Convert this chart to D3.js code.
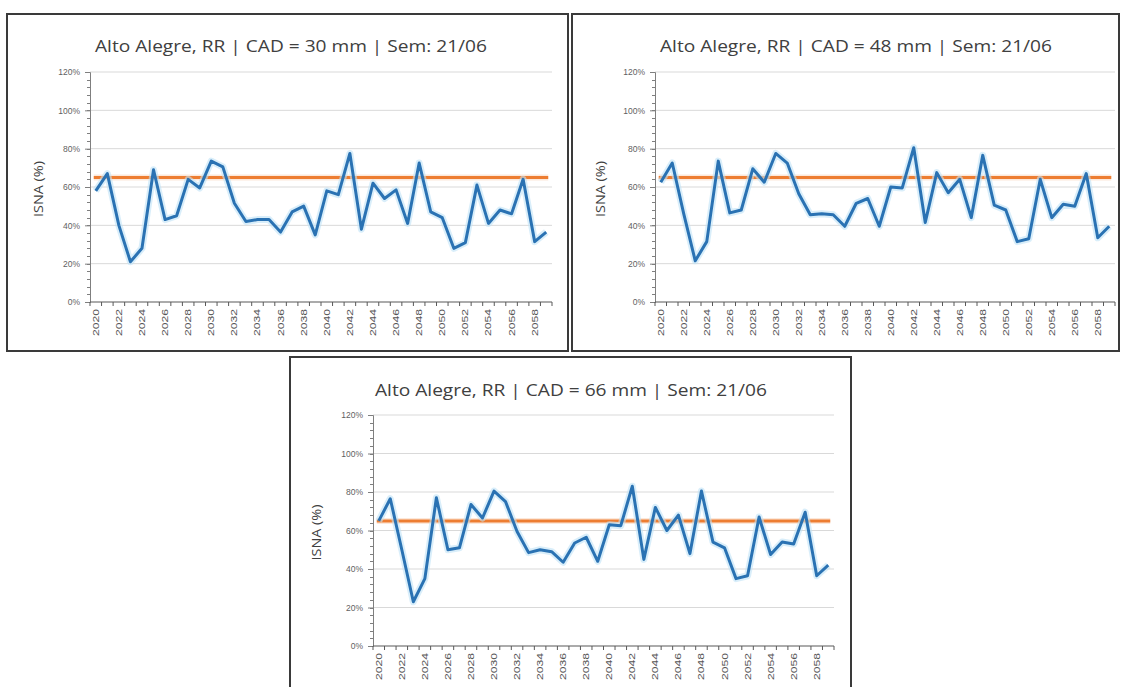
<!DOCTYPE html>
<html>
<head>
<meta charset="utf-8">
<script src="https://cdn.jsdelivr.net/npm/d3@7"></script>
<style>
  html, body { margin: 0; padding: 0; background: #ffffff; }
  svg { display: block; }
</style>
</head>
<body>
<svg id="chart" width="1121" height="687"></svg>
<script>
// ---------- DATA ----------
const years = [2020,2021,2022,2023,2024,2025,2026,2027,2028,2029,
               2030,2031,2032,2033,2034,2035,2036,2037,2038,2039,
               2040,2041,2042,2043,2044,2045,2046,2047,2048,2049,
               2050,2051,2052,2053,2054,2055,2056,2057,2058,2059];
const isnaCad30 = [58,67,40,21,28,69,43,45,64,59.5,
                   73.5,70.5,51.5,42,43,43,36.5,47,50,35,
                   58,56,77.5,38,62,54,58.5,41,72.5,47,
                   44,28,31,61,41,48,46,64,31.5,36.5];
const isnaCad48 = [62.5,72.5,46,21.5,31.5,73.5,46.5,48,69.5,62.5,
                   77.5,72.5,56.5,45.5,46,45.5,39.5,51.5,54,39.5,
                   60,59.5,80.5,41.5,67.5,57,64,44,76.5,50.5,
                   48,31.5,33,64,44,51,50,67,33.5,39.5];
const isnaCad66 = [65,76.5,50,23,35,77,50,51,73.5,66.5,
                   80.5,75,59.5,48.5,50,49,43.5,53.5,56.5,44,
                   63,62.5,83,45,72,60,68,48,80.5,54,
                   51,35,36.5,67,47.5,54,53,69.5,36.5,42];
const threshold = 65;
const titles = [
  "Alto Alegre, RR | CAD = 30 mm | Sem: 21/06",
  "Alto Alegre, RR | CAD = 48 mm | Sem: 21/06",
  "Alto Alegre, RR | CAD = 66 mm | Sem: 21/06"
];
const yTickValues = [0,20,40,60,80,100,120];
const yTickLabels = ["0%","20%","40%","60%","80%","100%","120%"];
const xLabelYears = years.filter(y => y % 2 === 0);
const yAxisTitle = "ISNA (%)";

// ---------- LAYOUT ----------
const panels = [
  { values: isnaCad30, title: titles[0], box: [7,14,568,351],  xr: [90,552],  yr: [302,72],  tx: 291, ty: 52,  ax: 38 },
  { values: isnaCad48, title: titles[1], box: [572,14,1119,351], xr: [655,1115], yr: [302,72],  tx: 856, ty: 52,  ax: 600 },
  { values: isnaCad66, title: titles[2], box: [290,357,851,705], xr: [373,834], yr: [646,415], tx: 571, ty: 396, ax: 316 }
];

const svg = d3.select("#chart");
const FONT = "'Liberation Sans', Arial, sans-serif";
const TFONT = "'Open Sans', 'Noto Sans', sans-serif";

panels.forEach(p => {
  const g = svg.append("g");
  // frame
  g.append("rect")
    .attr("x", p.box[0]).attr("y", p.box[1])
    .attr("width", p.box[2] - p.box[0]).attr("height", p.box[3] - p.box[1])
    .attr("fill", "#ffffff").attr("stroke", "#3a3a3a").attr("stroke-width", 2);

  const x = d3.scaleBand().domain(years).range(p.xr).paddingInner(0).paddingOuter(0);
  const y = d3.scaleLinear().domain([0,120]).range(p.yr);

  // gridlines
  g.append("g").selectAll("line").data(yTickValues.filter(v => v > 0)).join("line")
    .attr("x1", p.xr[0]).attr("x2", p.xr[1])
    .attr("y1", d => y(d)).attr("y2", d => y(d))
    .attr("stroke", "#d9d9d9").attr("stroke-width", 1);

  // y axis minor ticks
  const minor = d3.range(0, 121, 4);
  g.append("g").selectAll("line").data(minor).join("line")
    .attr("x1", p.xr[0] - 3).attr("x2", p.xr[0])
    .attr("y1", d => Math.round(y(d)) + 0.5).attr("y2", d => Math.round(y(d)) + 0.5)
    .attr("stroke", "#7f7f7f").attr("stroke-width", 1);

  // y axis with d3 axis
  const yAxis = d3.axisLeft(y).tickValues(yTickValues)
    .tickFormat((d, i) => yTickLabels[i]).tickSize(5).tickPadding(5);
  const ya = g.append("g").attr("transform", `translate(${p.xr[0]},0)`).call(yAxis);
  ya.select(".domain").attr("stroke", "#7f7f7f");
  ya.selectAll(".tick line").attr("stroke", "#7f7f7f");
  ya.selectAll(".tick text").attr("font-family", FONT).attr("font-size", 8.5).attr("fill", "#5f5f5f");

  // x axis ticks at band boundaries
  const bounds = years.map(d => x(d)).concat([x(years[years.length-1]) + x.bandwidth()]);
  g.append("g").selectAll("line").data(bounds).join("line")
    .attr("x1", d => d).attr("x2", d => d)
    .attr("y1", p.yr[0]).attr("y2", p.yr[0] + 4)
    .attr("stroke", "#595959").attr("stroke-width", 1);
  g.append("line")
    .attr("x1", p.xr[0]).attr("x2", p.xr[1])
    .attr("y1", p.yr[0]).attr("y2", p.yr[0])
    .attr("stroke", "#595959").attr("stroke-width", 1.2);

  // x tick labels
  g.append("g").selectAll("text").data(xLabelYears).join("text")
    .attr("transform", d => `translate(${x(d) + x.bandwidth()/2 + 3},${p.yr[0] + 7}) rotate(-90)`)
    .attr("text-anchor", "end")
    .attr("font-family", FONT).attr("font-size", 8.5).attr("fill", "#555555")
    .attr("textLength", 27).attr("lengthAdjust", "spacingAndGlyphs")
    .text(d => d);

  // threshold line
  g.append("line")
    .attr("x1", x(years[0]) + x.bandwidth()/2 - 2).attr("x2", x(years[years.length-1]) + x.bandwidth()/2 + 2)
    .attr("y1", y(threshold)).attr("y2", y(threshold))
    .attr("stroke", "#fbd9c2").attr("stroke-width", 6).attr("opacity", 0.6);
  g.append("line")
    .attr("x1", x(years[0]) + x.bandwidth()/2 - 2).attr("x2", x(years[years.length-1]) + x.bandwidth()/2 + 2)
    .attr("y1", y(threshold)).attr("y2", y(threshold))
    .attr("stroke", "#ed7d31").attr("stroke-width", 3);

  // series line
  const line = d3.line().x((d, i) => x(years[i]) + x.bandwidth()/2).y(d => y(d));
  g.append("path").datum(p.values).attr("d", line)
    .attr("fill", "none").attr("stroke", "#bfe3f7").attr("stroke-width", 7)
    .attr("stroke-linejoin", "round").attr("opacity", 0.6);
  g.append("path").datum(p.values).attr("d", line)
    .attr("fill", "none").attr("stroke", "#2a72b3").attr("stroke-width", 3)
    .attr("stroke-linejoin", "round");

  // title
  g.append("text").attr("x", p.tx).attr("y", p.ty)
    .attr("text-anchor", "middle")
    .attr("font-family", TFONT).attr("font-size", 16.5).attr("fill", "#404040")
    .attr("textLength", 392).attr("lengthAdjust", "spacingAndGlyphs")
    .text(p.title);

  // y axis title
  const cy = (p.yr[0] + p.yr[1]) / 2 + 2;
  g.append("text")
    .attr("transform", `translate(${p.ax},${cy}) rotate(-90)`)
    .attr("text-anchor", "middle").attr("dominant-baseline", "central")
    .attr("font-family", TFONT).attr("font-size", 13.5).attr("fill", "#404040")
    .attr("textLength", 56).attr("lengthAdjust", "spacingAndGlyphs")
    .text(yAxisTitle);
});
</script>
</body>
</html>
